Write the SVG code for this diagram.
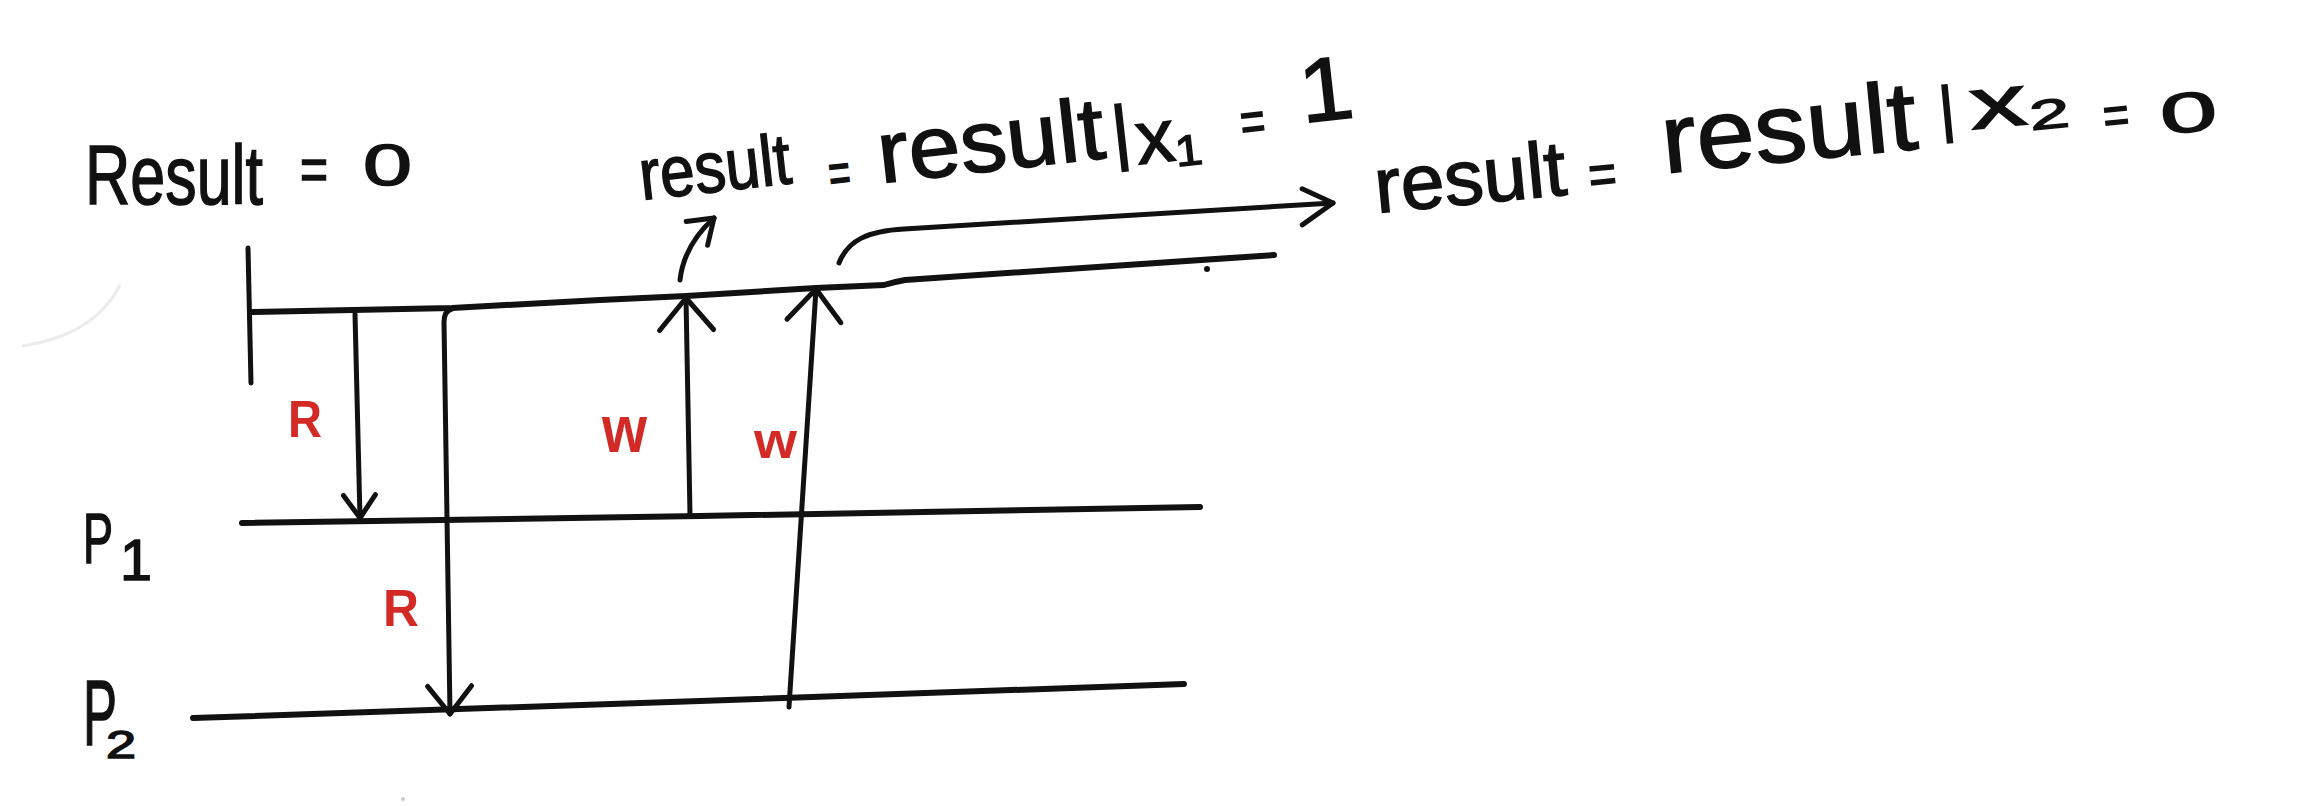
<svg xmlns="http://www.w3.org/2000/svg" width="2308" height="806" viewBox="0 0 2308 806">
<style>
.ln{fill:none;stroke:#111;stroke-width:6;stroke-linecap:round;stroke-linejoin:round}
.vl{fill:none;stroke:#111;stroke-width:5;stroke-linecap:round;stroke-linejoin:round}
.hw{font-family:"Liberation Sans",Arial,sans-serif;fill:#111;stroke:#111;stroke-width:1.5}
.red{font-family:"Liberation Sans",Arial,sans-serif;font-weight:bold;fill:#d42a25}
.head{fill:none;stroke:#111;stroke-width:5;stroke-linecap:round;stroke-linejoin:round}
</style>
<defs>
<marker id="ahS" markerUnits="userSpaceOnUse" orient="auto" refX="0" refY="0" markerWidth="40" markerHeight="40" overflow="visible"><path class="head" d="M-23,-16 L0,0 L-23,16"/></marker>
<marker id="ahM" markerUnits="userSpaceOnUse" orient="auto" refX="0" refY="0" markerWidth="40" markerHeight="40" overflow="visible"><path class="head" d="M-28,-22 L0,0 L-28,22"/></marker>
<marker id="ahL" markerUnits="userSpaceOnUse" orient="auto" refX="0" refY="0" markerWidth="40" markerHeight="40" overflow="visible"><path class="head" d="M-32,-27 L0,0 L-32,27"/></marker>
<marker id="ahC" markerUnits="userSpaceOnUse" orient="auto" refX="0" refY="0" markerWidth="40" markerHeight="40" overflow="visible"><path class="head" d="M-30,-16 L0,0 L-32,20"/></marker>
</defs>
<rect x="0" y="0" width="2308" height="806" fill="#fff"/>
<path d="M120,285 Q95,335 22,346" fill="none" stroke="#ececec" stroke-width="3"/>
<circle cx="403" cy="799" r="2" fill="#c8c8c8"/>

<g id="timeline-result">
<path class="vl" d="M248,248 L251,383"/>
<path class="ln" d="M251,312 L452,308 L600,300 L686,296 L816,288 L884,285 Q894,282 905,280 L1274,255"/>
<circle cx="1207" cy="269" r="3" fill="#111"/>
</g>

<g id="timeline-p1">
<path class="ln" d="M242,523 L700,516 L1200,507"/>
<text class="hw"><tspan x="83" y="563" font-size="70" textLength="30" lengthAdjust="spacingAndGlyphs">P</tspan><tspan x="120" y="580" font-size="58" textLength="32" lengthAdjust="spacingAndGlyphs">1</tspan></text>
</g>

<g id="timeline-p2">
<path class="ln" d="M193,718 L700,701 L1184,684"/>
<text class="hw"><tspan x="83" y="745" font-size="92" textLength="34" lengthAdjust="spacingAndGlyphs">P</tspan><tspan x="106" y="758" font-size="38" textLength="30" lengthAdjust="spacingAndGlyphs">2</tspan></text>
</g>

<g id="label-result-init">
<text class="hw"><tspan x="85" y="204" font-size="84" textLength="178" lengthAdjust="spacingAndGlyphs">Result</tspan> <tspan x="300" y="190" font-size="62" textLength="28" lengthAdjust="spacingAndGlyphs">=</tspan> <tspan x="363" y="185" font-size="58" textLength="49" lengthAdjust="spacingAndGlyphs">0</tspan></text>
</g>

<g id="label-write1">
<text class="hw" transform="translate(642,200) rotate(-6.4)"><tspan x="0" y="0" font-size="72" textLength="152" lengthAdjust="spacingAndGlyphs">result</tspan> <tspan x="188" y="14" font-size="56" textLength="22" lengthAdjust="spacingAndGlyphs">=</tspan> <tspan x="239" y="10" font-size="88" textLength="228" lengthAdjust="spacingAndGlyphs">result</tspan> <tspan x="474" y="10" font-size="72">|</tspan> <tspan x="497" y="20" font-size="75" textLength="65" lengthAdjust="spacingAndGlyphs">x₁</tspan> <tspan x="603" y="9" font-size="56" textLength="25" lengthAdjust="spacingAndGlyphs">=</tspan> <tspan x="665" y="-3" font-size="90" textLength="54" lengthAdjust="spacingAndGlyphs">1</tspan></text>
</g>

<g id="label-write2">
<text class="hw" transform="translate(1377,213) rotate(-5.5)"><tspan x="0" y="0" font-size="78" textLength="192" lengthAdjust="spacingAndGlyphs">result</tspan> <tspan x="214" y="2" font-size="56" textLength="28" lengthAdjust="spacingAndGlyphs">=</tspan> <tspan x="290" y="-12" font-size="98" textLength="256" lengthAdjust="spacingAndGlyphs">result</tspan> <tspan x="569" y="-28" font-size="62">|</tspan> <tspan x="600" y="-26" font-size="72" textLength="101" lengthAdjust="spacingAndGlyphs">x₂</tspan> <tspan x="732" y="-9" font-size="52" textLength="26" lengthAdjust="spacingAndGlyphs">=</tspan> <tspan x="789" y="-3" font-size="56" textLength="57" lengthAdjust="spacingAndGlyphs">0</tspan></text>
</g>

<g id="connectors">
<path class="vl" d="M355,314 L360,518" marker-end="url(#ahS)"/>
<path class="vl" d="M452,309 Q444,311 444,322 L450,714" marker-end="url(#ahM)"/>
<path class="vl" d="M690,515 L686,298" marker-end="url(#ahL)"/>
<path class="vl" d="M789,707 L816,289" marker-end="url(#ahL)"/>
<path class="vl" d="M680,280 Q684,245 714,218" marker-end="url(#ahS)"/>
<path class="vl" d="M839,263 C848,240 868,231 904,229 L1333,203" marker-end="url(#ahC)"/>
<text class="red" x="288" y="437" font-size="52" textLength="34" lengthAdjust="spacingAndGlyphs">R</text>
<text class="red" x="383" y="626" font-size="52" textLength="36" lengthAdjust="spacingAndGlyphs">R</text>
<text class="red" x="602" y="452" font-size="66" textLength="45" lengthAdjust="spacingAndGlyphs">w</text>
<text class="red" x="754" y="458" font-size="52" textLength="43" lengthAdjust="spacingAndGlyphs">w</text>
</g>
</svg>
